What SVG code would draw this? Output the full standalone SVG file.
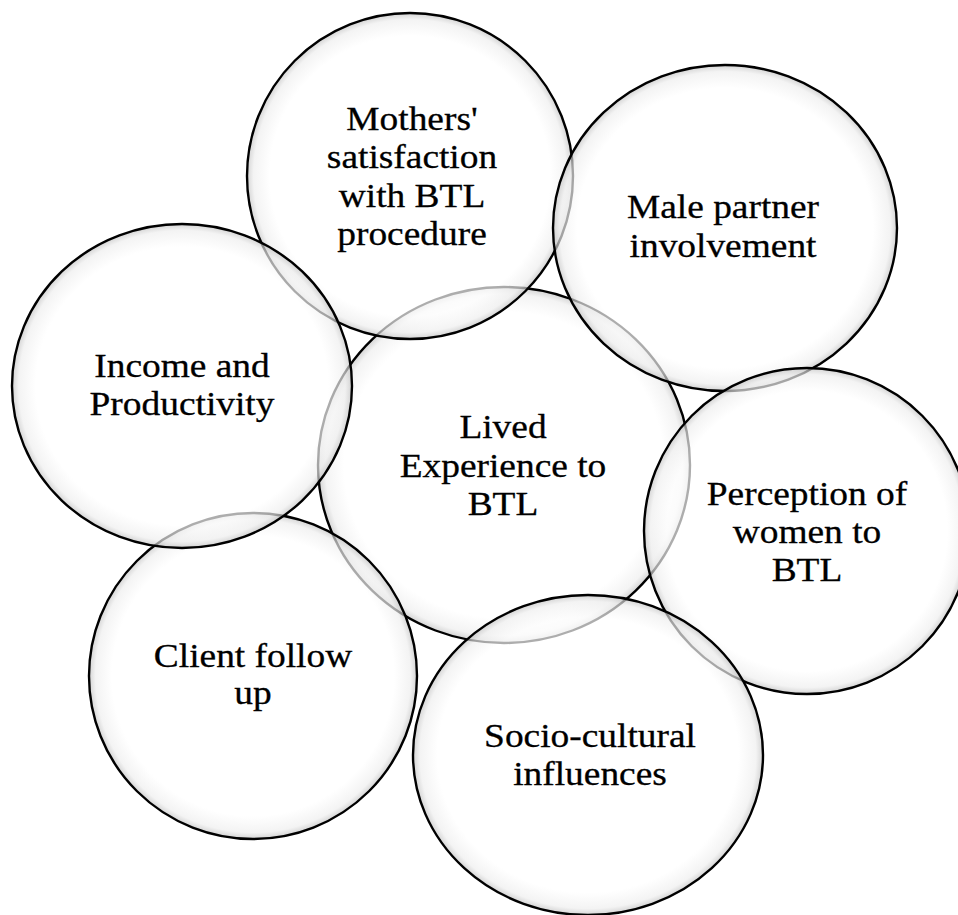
<svg xmlns="http://www.w3.org/2000/svg" width="958" height="915" viewBox="0 0 958 915">
<defs>
<radialGradient id="bub" cx="50%" cy="50%" r="50%">
<stop offset="0" stop-color="#ffffff"/>
<stop offset="0.86" stop-color="#ffffff"/>
<stop offset="0.96" stop-color="#eeeeee"/>
<stop offset="1" stop-color="#c0c0c0"/>
</radialGradient>
<style>
.c{fill:url(#bub);fill-opacity:0.68;stroke:#000;stroke-width:2.4}
.t{font-family:"Liberation Serif","Times New Roman",serif;font-size:34px;fill:#000;stroke:#000;stroke-width:0.3;text-anchor:middle}
</style>
</defs>
<rect width="958" height="915" fill="#fff"/>
<g id="connectors"/>
<g id="lived">
<ellipse class="c" cx="504" cy="465" rx="186" ry="178"/>
<g transform="translate(503 0) scale(1.1 1)"><text class="t" x="0" y="438">Lived</text><text class="t" x="0" y="477">Experience to</text><text class="t" x="0" y="515">BTL</text></g>
</g>
<g id="mothers">
<ellipse class="c" cx="410" cy="176" rx="163" ry="163"/>
<g transform="translate(412 0) scale(1.1 1)"><text class="t" x="0" y="130">Mothers'</text><text class="t" x="0" y="168">satisfaction</text><text class="t" x="0" y="207">with BTL</text><text class="t" x="0" y="245">procedure</text></g>
</g>
<g id="male">
<ellipse class="c" cx="725" cy="228" rx="172" ry="163"/>
<g transform="translate(723 0) scale(1.1 1)"><text class="t" x="0" y="218">Male partner</text><text class="t" x="0" y="257">involvement</text></g>
</g>
<g id="perception">
<ellipse class="c" cx="807" cy="531" rx="163" ry="163"/>
<g transform="translate(807 0) scale(1.1 1)"><text class="t" x="0" y="505">Perception of</text><text class="t" x="0" y="543">women to</text><text class="t" x="0" y="581">BTL</text></g>
</g>
<g id="socio">
<ellipse class="c" cx="588" cy="755" rx="175" ry="160"/>
<g transform="translate(590 0) scale(1.1 1)"><text class="t" x="0" y="747">Socio-cultural</text><text class="t" x="0" y="785">influences</text></g>
</g>
<g id="client">
<ellipse class="c" cx="253" cy="676" rx="164" ry="163"/>
<g transform="translate(253 0) scale(1.1 1)"><text class="t" x="0" y="667">Client follow</text><text class="t" x="0" y="704">up</text></g>
</g>
<g id="income">
<ellipse class="c" cx="182" cy="386" rx="170" ry="162"/>
<g transform="translate(182 0) scale(1.1 1)"><text class="t" x="0" y="377">Income and</text><text class="t" x="0" y="415">Productivity</text></g>
</g>
</svg>
